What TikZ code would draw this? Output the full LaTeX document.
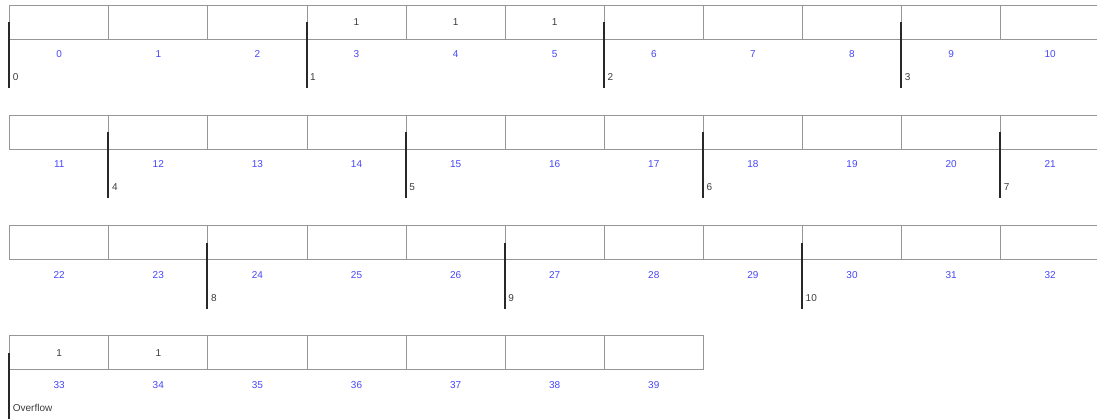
\documentclass[tikz,border=0pt]{standalone}
\usepackage{fontspec}
\setmainfont{Liberation Sans}
\usepackage{tikz}
\usetikzlibrary{positioning,calc}
\usepackage{xcolor}
\definecolor{cellgrey}{RGB}{150,150,150}
\definecolor{idxblue}{RGB}{70,70,250}
\definecolor{markdark}{RGB}{40,40,40}
\definecolor{textgrey}{RGB}{60,60,60}

\begin{document}
\begin{tikzpicture}[x=1pt, y=1pt,
    cell/.style={rectangle, draw=cellgrey, line width=0.9pt, minimum width=99.1pt,
        minimum height=34pt, inner sep=0pt, font=\fontsize{10}{12}\selectfont, text=textgrey},
    idx/.style={inner sep=0pt, font=\fontsize{10}{12}\selectfont, text=idxblue},
    marker/.style={line width=2pt, draw=markdark},
    bucket/.style={anchor=west, inner sep=0pt, font=\fontsize{10}{12}\selectfont, text=textgrey}
]
\useasboundingbox (0,0) rectangle (1097,-418);

% cells, eleven to a row
\foreach \i in {0,...,39}{
    \pgfmathtruncatemacro{\row}{div(\i,11)}
    \pgfmathtruncatemacro{\col}{mod(\i,11)}
    \node[cell] (c\i) at ({59.2+99.1*\col},{-22-110.3*\row}) {};
    \node[idx] (n\i) at ($(c\i.center)+(0,-32)$) {\i};
}

% stored values
\foreach \i in {3,4,5,33,34}
    \node[cell, draw=none] (v\i) at (c\i) {1};

% bucket markers
\foreach \i/\b in {0/0,3/1,6/2,9/3,12/4,15/5,18/6,21/7,24/8,27/9,30/10,33/Overflow}{
    \draw[marker] (c\i.west) -- ++(0,-66) coordinate (m\i);
    \node[bucket] (b\i) at ($(c\i.west)+(3.5,-55)$) {\b};
}
\end{tikzpicture}
\end{document}
